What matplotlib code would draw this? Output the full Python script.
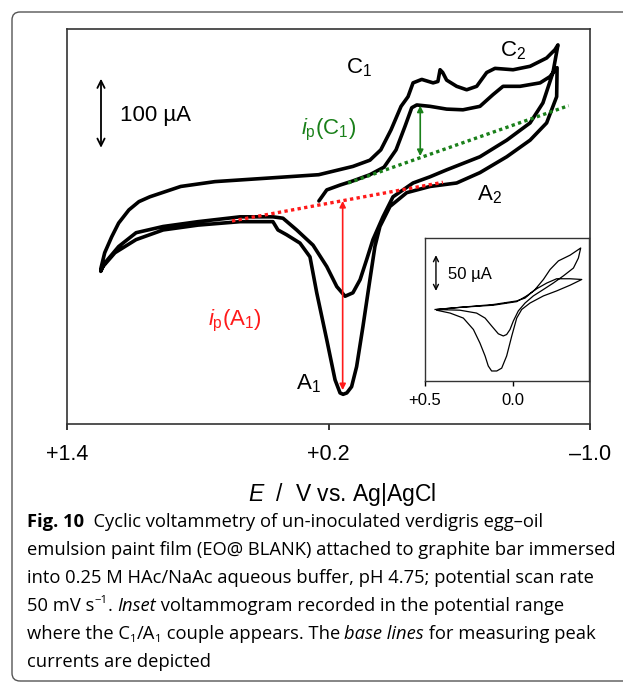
import matplotlib
matplotlib.use('Agg')
import matplotlib.pyplot as plt
from matplotlib.patches import FancyBboxPatch
from matplotlib.transforms import IdentityTransform

plt.rcParams['font.family'] = ['Liberation Sans', 'DejaVu Sans']
plt.rcParams['mathtext.fontset'] = 'custom'
plt.rcParams['mathtext.rm'] = 'Liberation Sans'
plt.rcParams['mathtext.it'] = 'Liberation Sans:italic'

# main voltammogram: E in V vs Ag|AgCl, I in uA (zero is arbitrary, no y axis)
# sweep 1: start near +0.24 V, cathodic to the negative vertex
E_sw1 = [0.244, 0.208, 0.147, 0.088, 0.010, -0.055, -0.110, -0.151, -0.182, -0.205,
         -0.266, -0.342, -0.417, -0.495, -0.555, -0.601, -0.679, -0.771, -0.816, -0.849]
I_sw1 = [13, 29, 36, 42, 51, 62, 87, 121, 148, 152,
         150, 146, 145, 150, 167, 179, 179, 184, 193, 206]
# sweep 2: anodic, deep A1 peak, up to the positive vertex
E_sw2 = [-0.849, -0.847, -0.801, -0.725, -0.618, -0.495, -0.388, -0.266, -0.159, -0.082,
         -0.036, -0.013, 0.010, 0.042, 0.071, 0.094, 0.116, 0.133, 0.147, 0.170,
         0.208, 0.254, 0.285, 0.331, 0.392, 0.432, 0.455, 0.606, 0.799, 0.959,
         1.083, 1.180, 1.235, 1.245]
I_sw2 = [206, 164, 126, 101, 77, 54, 39, 34, 25, 5,
         -24, -53, -101, -169, -227, -256, -265, -267, -265, -246,
         -188, -120, -68, -48, -36, -29, -17, -17, -22, -29,
         -43, -62, -82, -89]
# sweep 3: cathodic along the top, C1 (with spike) and C2
E_sw3 = [1.244, 1.227, 1.195, 1.163, 1.116, 1.070, 1.020, 0.878, 0.721, 0.482, 0.245,
         0.088, 0.010, -0.040, -0.087, -0.133, -0.165, -0.188, -0.228, -0.280, -0.302,
         -0.312, -0.324, -0.342, -0.388, -0.434, -0.480, -0.526, -0.564, -0.647, -0.725,
         -0.801, -0.839, -0.853]
I_sw3 = [-84, -62, -39, -19, 0, 12, 19, 34, 41, 46, 51,
         63, 72, 87, 116, 150, 164, 184, 189, 184, 186,
         203, 199, 188, 179, 174, 179, 199, 205, 203, 208,
         220, 232, 239]
# sweep 4: anodic, shallow A1 peak
E_sw4 = [-0.853, -0.830, -0.784, -0.725, -0.618, -0.495, -0.342, -0.266, -0.188, -0.096,
         -0.050, -0.004, 0.025, 0.055, 0.088, 0.124, 0.162, 0.208, 0.271, 0.346,
         0.409, 0.455, 0.606, 0.799, 0.959, 1.083, 1.163, 1.227, 1.244]
I_sw4 = [239, 199, 155, 126, 101, 77, 58, 48, 39, 19,
         -10, -43, -72, -101, -120, -125, -111, -82, -51, -29,
         -12, -10, -10, -17, -24, -33, -53, -77, -87]

# base lines for the peak currents
base_C1_E = [0.110, -0.902]
base_C1_I = [39, 151]
base_A1_E = [0.643, -0.325]
base_A1_I = [-16, 40]
ipC1_E, ipC1_top, ipC1_bot = -0.221, 151, 78
ipA1_E, ipA1_top, ipA1_bot = 0.135, 13, -261

xticks = [1.4, 0.2, -1.0]
xtick_labels = ['+1.4', '+0.2', '\u20131.0']

# inset voltammogram (narrower potential window)
E_in1 = [0.443, 0.302, 0.113, -0.019, -0.066, -0.123, -0.170, -0.208, -0.255, -0.321, -0.381]
I_in1 = [0, 3, 7, 12, 16, 28, 42, 56, 68, 76, 86]
E_in2 = [-0.381, -0.368, -0.340, -0.283, -0.226, -0.170, -0.113, -0.066, -0.028, 0.0,
         0.019, 0.038, 0.057, 0.085, 0.123, 0.160, 0.208, 0.302, 0.434]
I_in2 = [86, 72, 58, 47, 37, 28, 19, 9, -2, -16,
         -28, -35, -37, -34, -23, -12, -5, -1, 0]
E_in3 = [0.434, 0.302, 0.113, -0.019, -0.075, -0.132, -0.189, -0.245, -0.321, -0.387]
I_in3 = [0, 3, 6, 11, 19, 29, 37, 43, 43, 42]
E_in4 = [-0.387, -0.321, -0.245, -0.170, -0.094, -0.047, -0.019, 0.009, 0.038, 0.066,
         0.094, 0.123, 0.142, 0.160, 0.189, 0.226, 0.283, 0.358, 0.434]
I_in4 = [42, 34, 26, 19, 9, 0, -12, -37, -65, -82,
         -86, -86, -79, -65, -47, -28, -12, -5, -1]
inset_xticks = [0.5, 0.0]
inset_xtick_labels = ['+0.5', '0.0']

caption = [
    [('Fig. 10', 'b'), ('  Cyclic voltammetry of un-inoculated verdigris egg\u2013oil', '')],
    [('emulsion paint film (EO@ BLANK) attached to graphite bar immersed', '')],
    [('into 0.25 M HAc/NaAc aqueous buffer, pH 4.75; potential scan rate', '')],
    [('50 mV s', ''), ('\u22121', 'sup'), ('. ', ''), ('Inset', 'i'),
     (' voltammogram recorded in the potential range', '')],
    [('where the C', ''), ('1', 'sub'), ('/A', ''), ('1', 'sub'),
     (' couple appears. The ', ''), ('base lines', 'i'), (' for measuring peak', '')],
    [('currents are depicted', '')],
]

W, H = 623, 683
fig = plt.figure(figsize=(W / 100, H / 100), dpi=100)

ax = fig.add_axes([67 / W, 1 - 424 / H, 523 / W, 395 / H])
E_main = E_sw1 + E_sw2 + E_sw3 + E_sw4
I_main = I_sw1 + I_sw2 + I_sw3 + I_sw4
ax.plot(E_main, I_main, color='black', lw=2.6, solid_joinstyle='round', solid_capstyle='round')
ax.plot(base_C1_E, base_C1_I, color='#1a801a', lw=2.4, linestyle=(0, (1, 1)))
ax.plot(base_A1_E, base_A1_I, color='#ff1a1a', lw=2.4, linestyle=(0, (1, 1)))
ax.annotate('', xy=(ipC1_E, ipC1_bot), xytext=(ipC1_E, ipC1_top),
            arrowprops=dict(arrowstyle='<|-|>', color='#1a801a', lw=1.2,
                            mutation_scale=9, shrinkA=0, shrinkB=0))
ax.annotate('', xy=(ipA1_E, ipA1_bot), xytext=(ipA1_E, ipA1_top),
            arrowprops=dict(arrowstyle='<|-|>', color='#ff1a1a', lw=1.2,
                            mutation_scale=9, shrinkA=0, shrinkB=0))
# 100 uA scale bar
ax.annotate('', xy=(1.244, 90), xytext=(1.244, 190),
            arrowprops=dict(arrowstyle='<->', color='black', lw=1.3,
                            mutation_scale=13, shrinkA=0, shrinkB=0))
ax.text(1.155, 129, '100 \u00b5A', fontsize=16, va='baseline')

ax.text(0.120, 198, 'C$_1$', fontsize=16, va='baseline')
ax.text(-0.586, 223, 'C$_2$', fontsize=16, va='baseline')
ax.text(-0.482, 14, 'A$_2$', fontsize=16, va='baseline')
ax.text(0.351, -260, 'A$_1$', fontsize=16, va='baseline')
ax.text(0.324, 109, '$i_\\mathrm{p}$(C$_1$)', fontsize=16, va='baseline', color='#1a801a')
ax.text(0.752, -167, '$i_\\mathrm{p}$(A$_1$)', fontsize=16, va='baseline', color='#ff1a1a')

ax.set_xlim(1.4, -1.0)
ax.set_ylim(-310, 262)
ax.set_xticks(xticks)
ax.set_xticklabels(xtick_labels)
ax.set_yticks([])
ax.tick_params(axis='x', direction='out', length=4.5, width=1.1, labelsize=15.5, pad=10)
for s in ax.spines.values():
    s.set_linewidth(1.2)
    s.set_color('#333333')

fig.text(342 / W, 1 - 494 / H, '$E$  /  V vs. Ag|AgCl', fontsize=16.5, ha='center', va='center')

# inset
ins = fig.add_axes([425 / W, 1 - 381 / H, 164 / W, 143 / H])
ins.plot(E_in1 + E_in2 + E_in3 + E_in4, I_in1 + I_in2 + I_in3 + I_in4, color='black', lw=0.9)
ins.annotate('', xy=(0.438, 26), xytext=(0.438, 76),
             arrowprops=dict(arrowstyle='<->', color='black', lw=1.0,
                             mutation_scale=9, shrinkA=0, shrinkB=0))
ins.text(0.368, 42, '50 \u00b5A', fontsize=12, va='baseline')
ins.set_xlim(0.5, -0.428)
ins.set_ylim(-100, 100)
ins.set_xticks(inset_xticks)
ins.set_xticklabels(inset_xtick_labels)
ins.set_yticks([])
ins.tick_params(axis='x', direction='out', length=3.5, width=1, labelsize=12, pad=5)
for s in ins.spines.values():
    s.set_linewidth(1.0)
    s.set_color('#333333')

# caption box and text
fig.add_artist(FancyBboxPatch((12, 2), 640, H - 14, boxstyle='round,pad=0,rounding_size=8',
                              transform=IdentityTransform(), fill=False,
                              edgecolor='#555555', lw=1.0, clip_on=False))

renderer = fig.canvas.get_renderer()
cap_size = 13.2
cap_font = 'Open Sans'


def text_advance(s, kw):
    probe = fig.text(0, 0, s + '|', **kw)
    bar = fig.text(0, 0, '|', **kw)
    w = probe.get_window_extent(renderer).width - bar.get_window_extent(renderer).width
    probe.remove()
    bar.remove()
    return w


for k, parts in enumerate(caption):
    x = 27
    y = H - (527 + 28 * k)
    for s, style in parts:
        kw = dict(fontsize=cap_size, family=cap_font, transform=IdentityTransform(),
                  ha='left', va='baseline')
        dy = 0
        if style == 'b':
            kw['fontweight'] = 'bold'
        elif style == 'i':
            kw['fontstyle'] = 'italic'
        elif style == 'sub':
            kw['fontsize'] = cap_size * 0.62
            dy = -3
        elif style == 'sup':
            kw['fontsize'] = cap_size * 0.62
            dy = 8
        fig.text(x, y + dy, s, **kw)
        x += text_advance(s, kw)

fig.savefig('out.png', dpi=100)
